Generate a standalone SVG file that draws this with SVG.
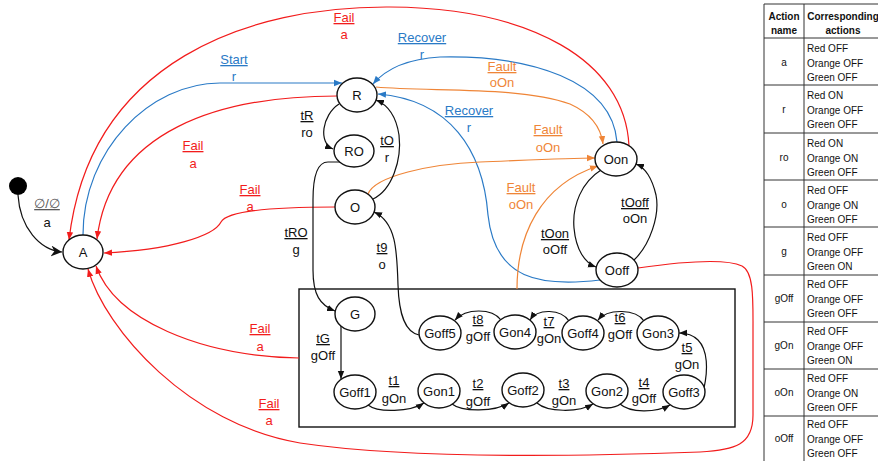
<svg xmlns="http://www.w3.org/2000/svg" width="878" height="461" viewBox="0 0 878 461">
<style>
text{font-family:"Liberation Sans",Arial,sans-serif;}
.n ellipse{fill:#fff;stroke:#111;stroke-width:1.4;}
.n text{font-size:13px;text-anchor:middle;fill:#111;}
.e{fill:none;stroke-width:1.2;}
.k{stroke:#111;}
.rd{stroke:#f21c1c;}
.bl{stroke:#2a7ac6;}
.or{stroke:#ef8537;}
.l{font-size:13px;text-anchor:middle;}
.u{text-decoration:underline;}
.lk{fill:#111;}
.lr{fill:#f21c1c;}
.lb{fill:#2a7ac6;}
.lo{fill:#ef8537;}
.tb line{stroke:#333;stroke-width:1;}
.tb text{font-size:10px;fill:#111;}
.tc{text-anchor:middle;}
.th{font-weight:bold;text-anchor:middle;}
</style>
<defs>
<marker id="mk" viewBox="0 0 10 10" refX="10" refY="5" markerWidth="8" markerHeight="8" orient="auto" markerUnits="userSpaceOnUse"><path d="M0,1 L10,5 L0,9 z" fill="#111"/></marker>
<marker id="mr" viewBox="0 0 10 10" refX="10" refY="5" markerWidth="8" markerHeight="8" orient="auto" markerUnits="userSpaceOnUse"><path d="M0,1 L10,5 L0,9 z" fill="#f21c1c"/></marker>
<marker id="mb" viewBox="0 0 10 10" refX="10" refY="5" markerWidth="8" markerHeight="8" orient="auto" markerUnits="userSpaceOnUse"><path d="M0,1 L10,5 L0,9 z" fill="#2a7ac6"/></marker>
<marker id="mo" viewBox="0 0 10 10" refX="10" refY="5" markerWidth="8" markerHeight="8" orient="auto" markerUnits="userSpaceOnUse"><path d="M0,1 L10,5 L0,9 z" fill="#ef8537"/></marker>
<marker id="ms" viewBox="0 0 10 10" refX="10" refY="5" markerWidth="11" markerHeight="11" orient="auto" markerUnits="userSpaceOnUse"><path d="M0,0 L10,5 L0,10 L3,5 z" fill="#111"/></marker>
</defs>
<rect width="878" height="461" fill="#fff"/>

<g id="box"><rect x="299" y="289" width="436" height="138" fill="none" stroke="#111" stroke-width="1.4"/></g>

<g id="connectors">
<path class="e k" d="M18 195 C20 228,40 250,62 252" marker-end="url(#ms)"/>
<path class="e bl" d="M83 235 C83 150,150 83,220 83 L342 83" marker-end="url(#mb)"/>
<path class="e rd" d="M629 146 C625 60,530 8,390 7 C250 6,90 60,69 240" marker-end="url(#mr)"/>
<path class="e rd" d="M337 96 C220 96,110 130,97 239" marker-end="url(#mr)"/>
<path class="e rd" d="M335 207 C290 207,228 209,221 222 C214 236,170 250,104 253" marker-end="url(#mr)"/>
<path class="e rd" d="M299 358 C200 356,115 320,96 266" marker-end="url(#mr)"/>
<path class="e rd" d="M638 268 C680 262,725 258,742 266 C754 272,753 300,753 330 L753 415 C753 445,735 450,700 452 C560 457,400 458,300 443 C190 425,105 330,88 269" marker-end="url(#mr)"/>
<path class="e bl" d="M617 142 C612 80,530 55,440 57 C405 59,385 70,373 84" marker-end="url(#mb)"/>
<path class="e bl" d="M600 280 C540 287,495 280,488 215 C483 150,450 100,378 94" marker-end="url(#mb)"/>
<path class="e or" d="M376 87 C430 92,520 86,570 104 C592 114,601 128,603 144" marker-end="url(#mo)"/>
<path class="e or" d="M368 194 C375 176,430 164,480 162 C530 160,570 158,595 158" marker-end="url(#mo)"/>
<path class="e or" d="M517 289 C517 235,540 185,598 166" marker-end="url(#mo)"/>
<path class="e k" d="M339 104 C322 115,318 143,333 149" marker-end="url(#mk)"/>
<path class="e k" d="M373 199 C392 190,402 160,399 135 C396 115,388 105,376 100" marker-end="url(#mk)"/>
<path class="e k" d="M341 162 L328 162 C318 162,313 175,313 200 L313 270 C313 295,320 305,335 311" marker-end="url(#mk)"/>
<path class="e k" d="M341 326 L341 379" marker-end="url(#mk)"/>
<path class="e k" d="M368 405 C378 413,410 412,424 403" marker-end="url(#mk)"/>
<path class="e k" d="M452 404 C462 412,495 412,509 403" marker-end="url(#mk)"/>
<path class="e k" d="M537 403 C547 412,578 413,593 404" marker-end="url(#mk)"/>
<path class="e k" d="M620 404 C630 413,656 413,670 405" marker-end="url(#mk)"/>
<path class="e k" d="M704 388 C708 370,708 350,698 340 C692 334,686 333,679 333" marker-end="url(#mk)"/>
<path class="e k" d="M644 321 C636 309,608 308,598 320" marker-end="url(#mk)"/>
<path class="e k" d="M569 321 C561 309,538 308,530 320" marker-end="url(#mk)"/>
<path class="e k" d="M501 320 C492 308,466 308,455 320" marker-end="url(#mk)"/>
<path class="e k" d="M419 335 C405 332,399 315,398 285 C397 250,396 222,374 212" marker-end="url(#mk)"/>
<path class="e k" d="M601 170 C582 182,572 205,574 228 C576 250,585 263,596 267" marker-end="url(#mk)"/>
<path class="e k" d="M634 260 C650 245,660 215,656 195 C652 178,646 168,636 164" marker-end="url(#mk)"/>

<text class="l u" x="47" y="208" fill="#595959">∅/∅</text><text class="l lk" x="47" y="227">a</text>
<text class="l u lb" x="234" y="64">Start</text><text class="l lb" x="234" y="81">r</text>
<text class="l u lr" x="344" y="22">Fail</text><text class="l lr" x="344" y="39">a</text>
<text class="l u lr" x="193" y="150">Fail</text><text class="l lr" x="193" y="168">a</text>
<text class="l u lr" x="250" y="194">Fail</text><text class="l lr" x="250" y="211">a</text>
<text class="l u lr" x="260" y="333">Fail</text><text class="l lr" x="260" y="351">a</text>
<text class="l u lr" x="269" y="408">Fail</text><text class="l lr" x="269" y="425">a</text>
<text class="l u lb" x="422" y="42">Recover</text><text class="l lb" x="422" y="59">r</text>
<text class="l u lb" x="469" y="115">Recover</text><text class="l lb" x="469" y="132">r</text>
<text class="l u lo" x="502" y="71">Fault</text><text class="l lo" x="502" y="87">oOn</text>
<text class="l u lo" x="548" y="134">Fault</text><text class="l lo" x="548" y="152">oOn</text>
<text class="l u lo" x="521" y="192">Fault</text><text class="l lo" x="521" y="209">oOn</text>
<text class="l u lk" x="307" y="120">tR</text><text class="l lk" x="307" y="137">ro</text>
<text class="l u lk" x="387" y="145">tO</text><text class="l lk" x="387" y="162">r</text>
<text class="l u lk" x="296" y="237">tRO</text><text class="l lk" x="296" y="254">g</text>
<text class="l u lk" x="382" y="252">t9</text><text class="l lk" x="382" y="269">o</text>
<text class="l u lk" x="323" y="343">tG</text><text class="l lk" x="323" y="360">gOff</text>
<text class="l u lk" x="394" y="385">t1</text><text class="l lk" x="394" y="403">gOn</text>
<text class="l u lk" x="478" y="388">t2</text><text class="l lk" x="478" y="406">gOff</text>
<text class="l u lk" x="564" y="388">t3</text><text class="l lk" x="564" y="405">gOn</text>
<text class="l u lk" x="644" y="387">t4</text><text class="l lk" x="644" y="403">gOff</text>
<text class="l u lk" x="687" y="352">t5</text><text class="l lk" x="687" y="369">gOn</text>
<text class="l u lk" x="620" y="322">t6</text><text class="l lk" x="620" y="339">gOff</text>
<text class="l u lk" x="549" y="326">t7</text><text class="l lk" x="549" y="343">gOn</text>
<text class="l u lk" x="478" y="324">t8</text><text class="l lk" x="478" y="341">gOff</text>
<text class="l u lk" x="555" y="238">tOon</text><text class="l lk" x="555" y="254">oOff</text>
<text class="l u lk" x="635" y="207">tOoff</text><text class="l lk" x="635" y="223">oOn</text>
</g>

<g id="init"><circle cx="18" cy="186" r="9" fill="#000"/></g>
<g id="A" class="n"><ellipse cx="83" cy="252" rx="20" ry="17"/><text x="83" y="257">A</text></g>
<g id="R" class="n"><ellipse cx="357" cy="95" rx="20" ry="17"/><text x="357" y="100">R</text></g>
<g id="RO" class="n"><ellipse cx="354" cy="151" rx="20" ry="16"/><text x="354" y="156">RO</text></g>
<g id="O" class="n"><ellipse cx="355" cy="207" rx="20" ry="17"/><text x="355" y="212">O</text></g>
<g id="Oon" class="n"><ellipse cx="616" cy="159" rx="21" ry="17"/><text x="616" y="164">Oon</text></g>
<g id="Ooff" class="n"><ellipse cx="617" cy="270" rx="21" ry="17"/><text x="617" y="275">Ooff</text></g>
<g id="G" class="n"><ellipse cx="355" cy="314" rx="20" ry="17"/><text x="355" y="319">G</text></g>
<g id="Goff1" class="n"><ellipse cx="355" cy="392" rx="21" ry="17"/><text x="355" y="397">Goff1</text></g>
<g id="Gon1" class="n"><ellipse cx="439" cy="391" rx="21" ry="17"/><text x="439" y="396">Gon1</text></g>
<g id="Goff2" class="n"><ellipse cx="523" cy="390" rx="21" ry="17"/><text x="523" y="395">Goff2</text></g>
<g id="Gon2" class="n"><ellipse cx="607" cy="391" rx="21" ry="17"/><text x="607" y="396">Gon2</text></g>
<g id="Goff3" class="n"><ellipse cx="684" cy="392" rx="21" ry="17"/><text x="684" y="397">Goff3</text></g>
<g id="Gon3" class="n"><ellipse cx="658" cy="333" rx="21" ry="17"/><text x="658" y="338">Gon3</text></g>
<g id="Goff4" class="n"><ellipse cx="583" cy="333" rx="21" ry="17"/><text x="583" y="338">Goff4</text></g>
<g id="Gon4" class="n"><ellipse cx="515" cy="332" rx="21" ry="17"/><text x="515" y="337">Gon4</text></g>
<g id="Goff5" class="n"><ellipse cx="440" cy="333" rx="21" ry="17"/><text x="440" y="338">Goff5</text></g>

<g id="table" class="tb">
<line x1="764" y1="4" x2="878" y2="4"/>
<line x1="764" y1="4" x2="764" y2="461"/>
<line x1="804" y1="4" x2="804" y2="461"/>
<line x1="764" y1="38" x2="878" y2="38"/>
<line x1="764" y1="85" x2="878" y2="85"/>
<line x1="764" y1="133" x2="878" y2="133"/>
<line x1="764" y1="180" x2="878" y2="180"/>
<line x1="764" y1="227" x2="878" y2="227"/>
<line x1="764" y1="275" x2="878" y2="275"/>
<line x1="764" y1="322" x2="878" y2="322"/>
<line x1="764" y1="369" x2="878" y2="369"/>
<line x1="764" y1="416" x2="878" y2="416"/>
<text class="th" x="784" y="20">Action</text><text class="th" x="784" y="34">name</text>
<text class="th" x="843" y="20">Corresponding</text><text class="th" x="843" y="34">actions</text>
<text class="tc" x="784" y="66">a</text><text x="807" y="52">Red OFF</text><text x="807" y="66.5">Orange OFF</text><text x="807" y="81">Green OFF</text>
<text class="tc" x="784" y="113">r</text><text x="807" y="99">Red ON</text><text x="807" y="113.5">Orange OFF</text><text x="807" y="128">Green OFF</text>
<text class="tc" x="784" y="161">ro</text><text x="807" y="147">Red ON</text><text x="807" y="161.5">Orange ON</text><text x="807" y="176">Green OFF</text>
<text class="tc" x="784" y="208">o</text><text x="807" y="194">Red OFF</text><text x="807" y="208.5">Orange ON</text><text x="807" y="223">Green OFF</text>
<text class="tc" x="784" y="255">g</text><text x="807" y="241">Red OFF</text><text x="807" y="255.5">Orange OFF</text><text x="807" y="270">Green ON</text>
<text class="tc" x="784" y="302">gOff</text><text x="807" y="288">Red OFF</text><text x="807" y="302.5">Orange OFF</text><text x="807" y="317">Green OFF</text>
<text class="tc" x="784" y="349">gOn</text><text x="807" y="335">Red OFF</text><text x="807" y="349.5">Orange OFF</text><text x="807" y="364">Green ON</text>
<text class="tc" x="784" y="396">oOn</text><text x="807" y="382">Red OFF</text><text x="807" y="396.5">Orange ON</text><text x="807" y="411">Green OFF</text>
<text class="tc" x="784" y="442">oOff</text><text x="807" y="428">Red OFF</text><text x="807" y="442.5">Orange OFF</text><text x="807" y="457">Green OFF</text>
</g>
</svg>
